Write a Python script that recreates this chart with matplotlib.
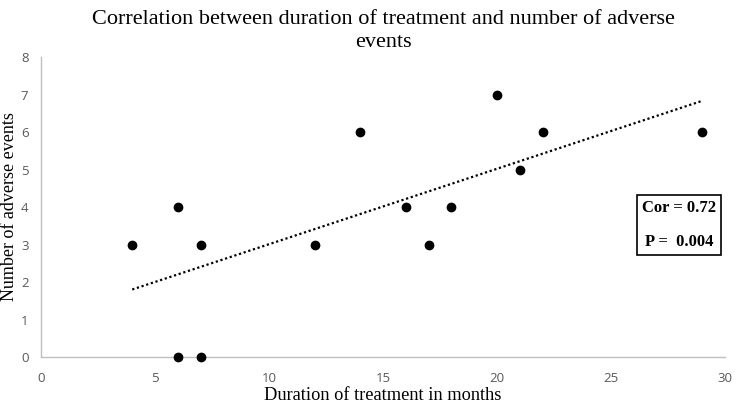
import matplotlib
matplotlib.use("Agg")
import matplotlib.pyplot as plt
import numpy as np

duration = [4, 6, 6, 7, 7, 12, 14, 16, 17, 18, 20, 21, 22, 29]
events = [3, 4, 0, 3, 0, 3, 6, 4, 3, 4, 7, 5, 6, 6]
x_ticks = [0, 5, 10, 15, 20, 25, 30]
y_ticks = [0, 1, 2, 3, 4, 5, 6, 7, 8]

fig = plt.figure(figsize=(7.5, 4.05), dpi=100)
ax = fig.add_axes([0.0547, 0.1185, 0.912, 0.7405])

ax.scatter(duration, events, s=36, color="black", zorder=3, clip_on=False)
slope, intercept = np.polyfit(duration, events, 1)
xs = np.array([min(duration), max(duration)])
ax.plot(xs, slope * xs + intercept, linestyle=(0, (1, 1.2)), color="black", linewidth=1.6)

ax.set_xlim(0, 30)
ax.set_ylim(0, 8)
ax.set_xticks(x_ticks)
ax.set_yticks(y_ticks)
for s in ["top", "right"]:
    ax.spines[s].set_visible(False)
for s in ["left", "bottom"]:
    ax.spines[s].set_color("#bfbfbf")
    ax.spines[s].set_linewidth(1.0)
ax.tick_params(length=0, labelsize=9.5, colors="#595959")
ax.tick_params(axis="x", pad=11)
ax.tick_params(axis="y", pad=9)
for lab in ax.get_xticklabels() + ax.get_yticklabels():
    lab.set_family("Open Sans")

ax.set_title("Correlation between duration of treatment and number of adverse\nevents",
             fontfamily="Liberation Serif", fontsize=16, pad=7, linespacing=1.3)
ax.set_xlabel("Duration of treatment in months", fontfamily="Liberation Serif", fontsize=13.2, labelpad=1)
ax.set_ylabel("Number of adverse events", fontfamily="Liberation Serif", fontsize=13, labelpad=2)

ax.text(0.933, 0.44, "Cor = 0.72\n\nP =  0.004", transform=ax.transAxes, ha="center", va="center",
        fontfamily="Liberation Serif", fontweight="bold", fontsize=12, linespacing=1.05,
        bbox=dict(boxstyle="square,pad=0.3", facecolor="white", edgecolor="black", linewidth=1.2))

fig.savefig("out.png", dpi=100)
